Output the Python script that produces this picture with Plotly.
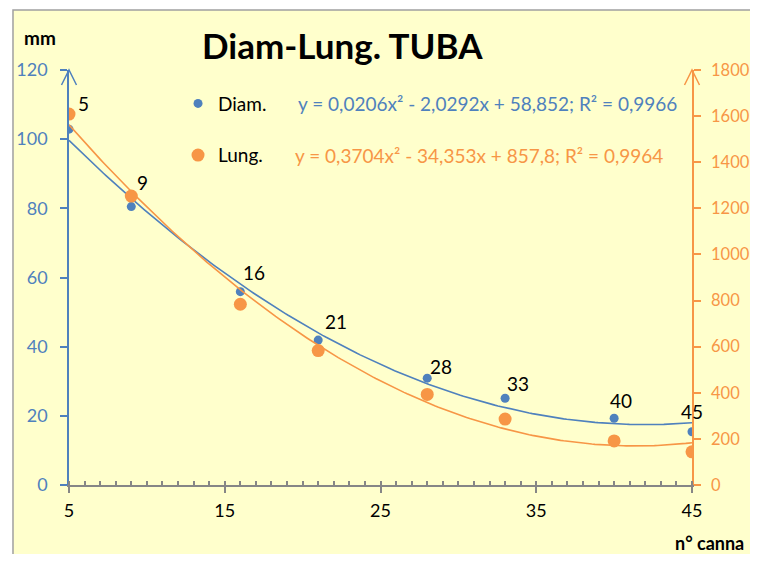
import numpy as np
import plotly.graph_objects as go

# ---- data ----
canna = [5, 9, 16, 21, 28, 33, 40, 45]
diam_mm = [102.9, 80.5, 55.9, 41.9, 30.9, 25.1, 19.3, 15.4]
lung_mm = [1609, 1253, 784, 583, 393, 286, 191, 144]
eq_diam = "y = 0,0206x² - 2,0292x + 58,852; R² = 0,9966"
eq_lung = "y = 0,3704x² - 34,353x + 857,8; R² = 0,9964"
x_ticks = [5, 15, 25, 35, 45]
left_ticks = [0, 20, 40, 60, 80, 100, 120]
right_ticks = [0, 200, 400, 600, 800, 1000, 1200, 1400, 1600, 1800]

# label offsets (pixels) for point labels
label_dx = [14, 11, 14, 18, 14, 13, 7, 0]
label_dy = [26, 24, 19, 19, 12, 15, 18, 20]

BLUE = "#4F81BD"
ORANGE = "#F79646"
BG = "#FFFFCC"
FONT = "Lato, Open Sans, sans-serif"

# quadratic trendlines fitted from the data (as the spreadsheet does)
xs = np.linspace(min(canna), max(canna), 200)
cd = np.polyfit(canna, diam_mm, 2)
cl = np.polyfit(canna, lung_mm, 2)

fig = go.Figure()
fig.add_trace(go.Scatter(x=xs, y=np.polyval(cd, xs), mode="lines",
                         line=dict(color=BLUE, width=1.6), showlegend=False,
                         hoverinfo="skip"))
fig.add_trace(go.Scatter(x=xs, y=np.polyval(cl, xs), mode="lines", yaxis="y2",
                         line=dict(color=ORANGE, width=1.6), showlegend=False,
                         hoverinfo="skip"))
fig.add_trace(go.Scatter(x=canna, y=diam_mm, mode="markers", name="Diam.",
                         marker=dict(color=BLUE, size=9), legendgroup="a"))
fig.add_trace(go.Scatter(x=canna, y=lung_mm, mode="markers", name="Lung.", yaxis="y2",
                         marker=dict(color=ORANGE, size=13), legendgroup="b"))

annotations = []
for xv, yv, dx, dy in zip(canna, diam_mm, label_dx, label_dy):
    annotations.append(dict(x=xv, y=yv, xref="x", yref="y", text=str(xv), showarrow=False,
                            xanchor="center", yanchor="middle",
                            xshift=dx, yshift=dy, font=dict(family=FONT, size=19, color="black")))

annotations += [
    dict(text="<b>Diam-Lung. TUBA</b>", xref="paper", yref="paper", x=0.4398, y=1.06,
         xanchor="center", yanchor="middle",
         showarrow=False, font=dict(family=FONT, size=35, color="black")),
    dict(text="<b>mm</b>", xref="paper", yref="paper", x=-0.0465, y=1.0795,
         xanchor="center", yanchor="middle",
         showarrow=False, font=dict(family=FONT, size=19, color="black")),
    dict(text="<b>n° canna</b>", xref="paper", yref="paper", x=(746 - 69) / 623, y=-0.1398,
         xanchor="right", yanchor="middle",
         showarrow=False, font=dict(family=FONT, size=18, color="black")),
    dict(text=eq_diam, xref="paper", yref="paper", x=(296 - 69) / 623, y=(485 - 103) / 415,
         xanchor="left", yanchor="middle", showarrow=False,
         font=dict(family=FONT, size=19, color=BLUE)),
    dict(text=eq_lung, xref="paper", yref="paper", x=(293 - 69) / 623, y=(485 - 155) / 415,
         xanchor="left", yanchor="middle", showarrow=False,
         font=dict(family=FONT, size=19, color=ORANGE)),
]

shapes = [
    dict(type="rect", xref="paper", yref="paper", x0=-0.0899, x1=1.6, y0=-0.6, y1=1.1446,
         fillcolor=BG, line=dict(color="#A0A0A0", width=1.5), layer="below"),
    dict(type="path", xref="paper", yref="paper", xsizemode="pixel", ysizemode="pixel",
         xanchor=0, yanchor=1, path="M -7.5,-15 L 0,0 L 7.5,-15",
         line=dict(color=BLUE, width=1.5)),
    dict(type="path", xref="paper", yref="paper", xsizemode="pixel", ysizemode="pixel",
         xanchor=1, yanchor=1, path="M -7.5,-15 L 0,0 L 7.5,-15",
         line=dict(color=ORANGE, width=1.5)),
]

fig.update_layout(
    width=742, height=546,
    margin=dict(l=61, r=58, t=62, b=69, autoexpand=False),
    paper_bgcolor="white", plot_bgcolor="rgba(0,0,0,0)",
    font=dict(family=FONT, size=19, color="black"),
    showlegend=True,
    legend=dict(x=0.175, y=0.965, xanchor="left", yanchor="top", bgcolor="rgba(0,0,0,0)",
                tracegroupgap=24, font=dict(family=FONT, size=19, color="black")),
    xaxis=dict(range=[5, 45], tickvals=x_ticks, showgrid=False, zeroline=False,
               automargin=False,
               showline=True, linecolor="#868686", linewidth=1.5,
               ticks="outside", ticklen=6, tickcolor="#868686", tickwidth=1.5,
               ticklabelstandoff=3,
               tickfont=dict(family=FONT, size=18, color="black"),
               minor=dict(dtick=1, tick0=5, ticks="inside", ticklen=4, tickcolor="#868686",
                          showgrid=False)),
    yaxis=dict(range=[0, 120], tickvals=left_ticks, showgrid=False, zeroline=False,
               automargin=False,
               showline=True, linecolor=BLUE, linewidth=1.5,
               ticks="outside", ticklen=7, tickcolor=BLUE, tickwidth=1.5,
               ticklabelstandoff=9,
               tickfont=dict(family=FONT, size=18, color=BLUE)),
    yaxis2=dict(range=[0, 1800], tickvals=right_ticks, overlaying="y", side="right",
                showgrid=False, zeroline=False, automargin=False,
                showline=True, linecolor=ORANGE, linewidth=1.5,
                ticks="outside", ticklen=7, tickcolor=ORANGE, tickwidth=1.5,
                ticklabelstandoff=7,
                tickfont=dict(family=FONT, size=16.5, color=ORANGE)),
    annotations=annotations,
    shapes=shapes,
)

fig.write_html("out.html")
